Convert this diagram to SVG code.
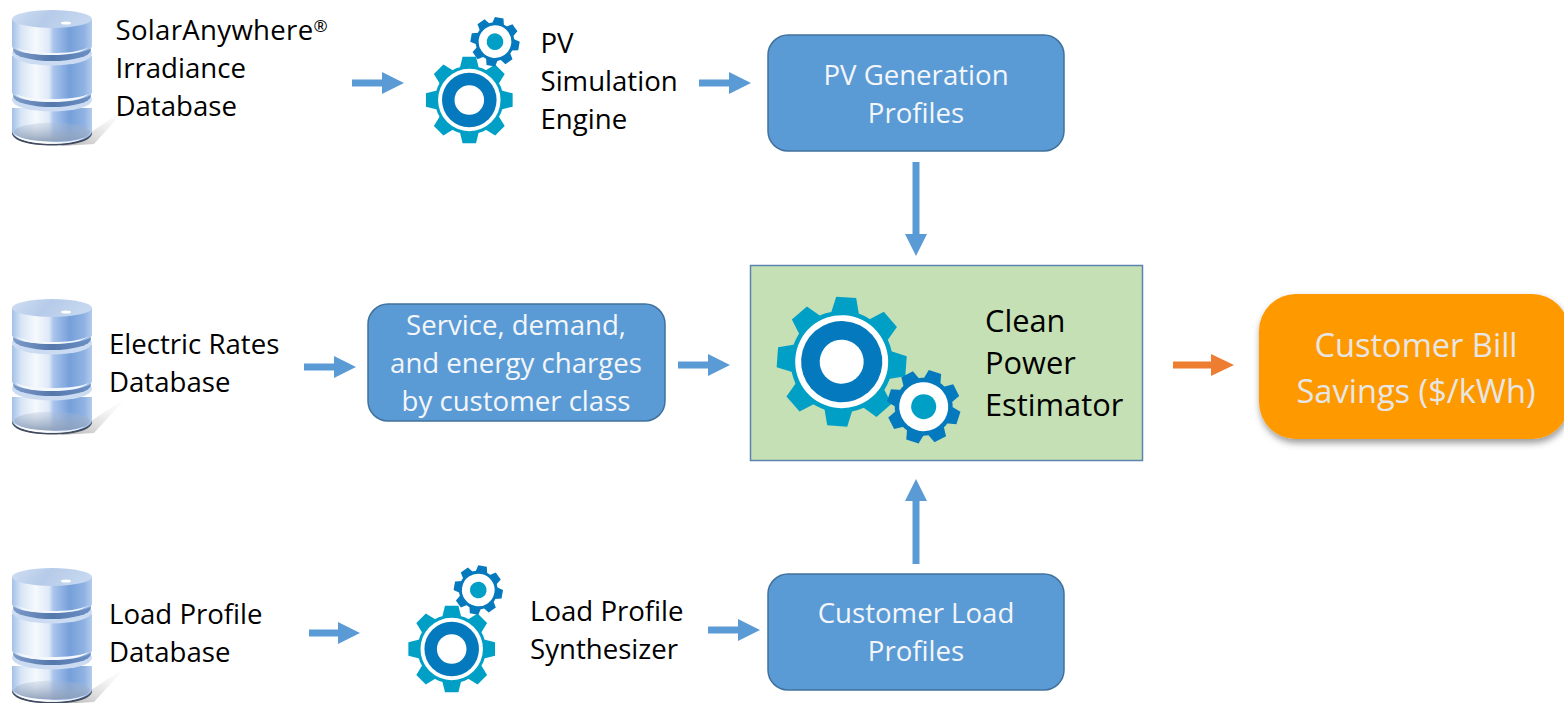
<svg xmlns="http://www.w3.org/2000/svg" width="1564" height="703" viewBox="0 0 1564 703">
<style>
text{font-family:"Open Sans","Noto Sans","DejaVu Sans",sans-serif;font-size:27.6px;fill:#000}
.w{fill:#F4F6FA;text-anchor:middle}
.big{font-size:32.6px;fill:#E7E6E6;text-anchor:middle}
.est{font-size:30.8px}
.box{fill:#5B9BD5;stroke:#41719C;stroke-width:1.5}
.conn{stroke-width:7;fill:none}
.teal{fill:#00A0C6}.dark{fill:#0579BD}.white{fill:#fff}
</style>
<defs>
<marker id="hb" markerUnits="userSpaceOnUse" markerWidth="23" markerHeight="24" refX="0" refY="12" orient="auto"><path d="M0 1L22 12L0 23Z" fill="#5B9BD5"/></marker>
<marker id="ho" markerUnits="userSpaceOnUse" markerWidth="24" markerHeight="24" refX="0" refY="12" orient="auto"><path d="M0 1L23 12L0 23Z" fill="#ED7D31"/></marker>
<linearGradient id="cyl" x1="0" x2="1" y1="0" y2="0">
<stop offset="0" stop-color="#a4c0e8"/><stop offset=".12" stop-color="#d9e6f6"/><stop offset=".3" stop-color="#f6f9fd"/><stop offset=".46" stop-color="#dfe9f7"/><stop offset=".52" stop-color="#a9c4ec"/><stop offset=".72" stop-color="#76a0da"/><stop offset=".9" stop-color="#8fb2e2"/><stop offset="1" stop-color="#b4cced"/>
</linearGradient>
<linearGradient id="topg" x1="0" x2="1" y1="0" y2="0.2"><stop offset="0" stop-color="#cfdef2"/><stop offset=".5" stop-color="#b6cbe9"/><stop offset="1" stop-color="#c6d8f0"/></linearGradient>
<linearGradient id="bot" x1="0" x2="0" y1="0" y2="1"><stop offset="0" stop-color="#a9b9d0" stop-opacity=".25"/><stop offset="1" stop-color="#8e9fb8" stop-opacity=".95"/></linearGradient>
<linearGradient id="band" x1="0" x2="1" y1="0" y2="0"><stop offset="0" stop-color="#7d9bc8"/><stop offset=".5" stop-color="#5578ac"/><stop offset="1" stop-color="#6d90c4"/></linearGradient>
<linearGradient id="shade" x1="0" x2="1" y1="1" y2="0"><stop offset="0" stop-color="#777" stop-opacity=".6"/><stop offset=".7" stop-color="#bbb" stop-opacity=".15"/><stop offset="1" stop-color="#ccc" stop-opacity="0"/></linearGradient>
<filter id="sh" x="-10%" y="-10%" width="120%" height="125%"><feDropShadow dx="1" dy="4" stdDeviation="3.500" flood-color="#000" flood-opacity=".4"/></filter>
<filter id="soft" x="-5%" y="-5%" width="110%" height="110%"><feGaussianBlur stdDeviation=".5"/></filter>
<g id="db" filter="url(#soft)">
<path d="M88 134L126 109L94 144L60 146Z" fill="url(#shade)"/>
<path d="M12 108V133C12 141 30 145.500 52 145.500S92 141 92 133V108Z" fill="#3f4b60"/>
<path d="M12 108V131C12 139 30 143.500 52 143.500S92 139 92 131V108Z" fill="url(#cyl)"/>
<ellipse cx="52" cy="132" rx="38" ry="9.500" fill="url(#bot)"/>
<path d="M14 134C22 140 38 142 52 142S76 141 86 137C76 143 64 144 52 144S20 142 14 134Z" fill="#fff" opacity=".85"/>
<ellipse cx="52" cy="100" rx="40" ry="11.500" fill="#cbdcf2"/>
<ellipse cx="52" cy="96" rx="39" ry="11" fill="url(#band)"/>
<path d="M12 56V92C12 98 30 102 52 102S92 98 92 92V56Z" fill="url(#cyl)"/>
<ellipse cx="52" cy="54" rx="40" ry="11.500" fill="#cbdcf2"/>
<ellipse cx="52" cy="50" rx="39" ry="11" fill="url(#band)"/>
<path d="M12 19V46C12 51 30 55 52 55S92 51 92 46V19Z" fill="url(#cyl)"/>
<path d="M15 47C24 52 38 53 52 53S80 52 89 47C82 53 68 55 52 55S22 53 15 47Z" fill="#f4f8fc"/>
<path d="M15 94C24 98 38 99 52 99S80 98 89 94C82 100 68 102 52 102S22 100 15 94Z" fill="#f4f8fc"/>
<ellipse cx="52" cy="19" rx="40" ry="9" fill="url(#topg)"/>
<ellipse cx="66" cy="23" rx="5" ry="1.500" fill="#fff"/>
</g>
<path id="t" d="M-14 -48L-10 -64.500L10 -64.500L14 -48Z"/>
<path id="ts" d="M-9 -26L-6.500 -36.500L6.500 -36.500L9 -26Z"/>
<g id="gearL">
<g class="teal"><use href="#t"/><use href="#t" transform="rotate(45)"/><use href="#t" transform="rotate(90)"/><use href="#t" transform="rotate(135)"/><use href="#t" transform="rotate(180)"/><use href="#t" transform="rotate(225)"/><use href="#t" transform="rotate(270)"/><use href="#t" transform="rotate(315)"/><circle r="51"/></g>
<circle class="white" r="46.500"/><circle class="dark" r="40.600"/><circle class="white" r="22"/>
</g>
<g id="gearS">
<g class="dark"><use href="#ts"/><use href="#ts" transform="rotate(45)"/><use href="#ts" transform="rotate(90)"/><use href="#ts" transform="rotate(135)"/><use href="#ts" transform="rotate(180)"/><use href="#ts" transform="rotate(225)"/><use href="#ts" transform="rotate(270)"/><use href="#ts" transform="rotate(315)"/><circle r="29"/></g>
<circle class="white" r="24.500"/><circle class="teal" r="12.500"/>
</g>
</defs>
<rect width="1564" height="703" fill="#fff"/>

<g id="connectors">
<line class="conn" stroke="#5B9BD5" x1="352" y1="83" x2="382" y2="83" marker-end="url(#hb)"/>
<line class="conn" stroke="#5B9BD5" x1="699" y1="83" x2="729" y2="83" marker-end="url(#hb)"/>
<line class="conn" stroke="#5B9BD5" x1="916" y1="162" x2="916" y2="234" marker-end="url(#hb)"/>
<line class="conn" stroke="#5B9BD5" x1="304" y1="367" x2="334" y2="367" marker-end="url(#hb)"/>
<line class="conn" stroke="#5B9BD5" x1="678" y1="365" x2="708" y2="365" marker-end="url(#hb)"/>
<line class="conn" stroke="#5B9BD5" x1="916" y1="564" x2="916" y2="501" marker-end="url(#hb)"/>
<line class="conn" stroke="#5B9BD5" x1="309" y1="633" x2="338" y2="633" marker-end="url(#hb)"/>
<line class="conn" stroke="#5B9BD5" x1="708" y1="630" x2="738" y2="630" marker-end="url(#hb)"/>
<line class="conn" stroke="#ED7D31" x1="1173" y1="365" x2="1211" y2="365" marker-end="url(#ho)"/>
</g>

<g id="db-solar"><use href="#db"/><text x="115.500" y="40" letter-spacing=".3">SolarAnywhere<tspan font-size="17" dy="-8">®</tspan></text><text x="115.500" y="78">Irradiance</text><text x="115.500" y="116">Database</text></g>
<g id="db-rates"><use href="#db" y="289"/><text x="109" y="354">Electric Rates</text><text x="109" y="392">Database</text></g>
<g id="db-load"><use href="#db" y="558"/><text x="109" y="624">Load Profile</text><text x="109" y="662">Database</text></g>

<g id="pv-engine"><use href="#gearL" transform="translate(469.300 100) scale(.672)"/><use href="#gearS" transform="translate(495 41.700) scale(.667) rotate(10)"/><text x="540.500" y="53">PV</text><text x="540.500" y="91">Simulation</text><text x="540.500" y="129">Engine</text></g>
<g id="pv-profiles"><rect class="box" x="768" y="35" width="296" height="116" rx="20"/><text class="w" x="916" y="85">PV Generation</text><text class="w" x="916" y="123">Profiles</text></g>
<g id="charges"><rect class="box" x="368" y="304" width="297" height="117" rx="20"/><text class="w" x="516" y="335">Service, demand,</text><text class="w" x="516" y="373">and energy charges</text><text class="w" x="516" y="411">by customer class</text></g>
<g id="estimator"><rect x="750.500" y="265.500" width="392" height="195" fill="#C5E0B4" stroke="#5B84B1" stroke-width="1.500"/><use href="#gearL" transform="translate(841.700 361.700) rotate(4)"/><use href="#gearS" transform="translate(923.700 406.700) rotate(18)"/><text class="est" x="985" y="332">Clean</text><text class="est" x="985" y="374">Power</text><text class="est" x="985" y="416">Estimator</text></g>
<g id="synth"><use href="#gearL" transform="translate(451.700 649) scale(.672)"/><use href="#gearS" transform="translate(478.300 590) scale(.667) rotate(10)"/><text x="530" y="621">Load Profile</text><text x="530" y="659">Synthesizer</text></g>
<g id="load-profiles"><rect class="box" x="768" y="574" width="296" height="116" rx="20"/><text class="w" x="916" y="623">Customer Load</text><text class="w" x="916" y="661">Profiles</text></g>
<g id="savings"><rect x="1259" y="294" width="310" height="145" rx="37" fill="#FF9900" filter="url(#sh)"/><text class="big" x="1416" y="357">Customer Bill</text><text class="big" x="1416" y="403">Savings ($/kWh)</text></g>
</svg>
